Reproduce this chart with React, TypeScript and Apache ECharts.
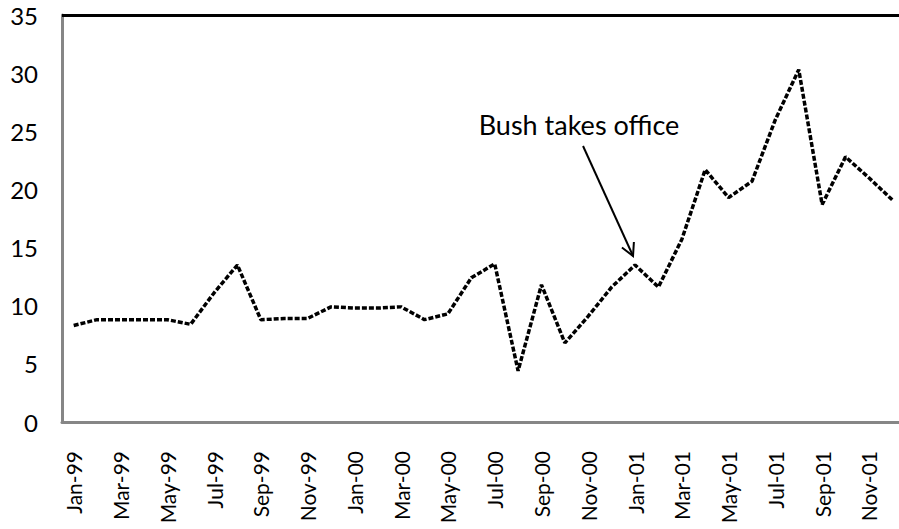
import React, { useEffect, useRef } from "react";
import * as echarts from "echarts";

const months = [
  "Jan-99","Feb-99","Mar-99","Apr-99","May-99","Jun-99","Jul-99","Aug-99","Sep-99","Oct-99","Nov-99","Dec-99",
  "Jan-00","Feb-00","Mar-00","Apr-00","May-00","Jun-00","Jul-00","Aug-00","Sep-00","Oct-00","Nov-00","Dec-00",
  "Jan-01","Feb-01","Mar-01","Apr-01","May-01","Jun-01","Jul-01","Aug-01","Sep-01","Oct-01","Nov-01","Dec-01",
];
const values = [
  8.3, 8.8, 8.8, 8.8, 8.8, 8.4, 11.1, 13.5, 8.8, 8.9, 8.9, 9.9,
  9.8, 9.8, 9.9, 8.8, 9.3, 12.4, 13.6, 4.4, 11.8, 6.8, 9.1, 11.6,
  13.5, 11.6, 15.7, 21.7, 19.3, 20.7, 26.0, 30.3, 18.7, 22.8, 21.0, 19.1,
];
const yTicks = [0, 5, 10, 15, 20, 25, 30, 35];
const annotationText = "Bush takes office";
const annotationMonth = "Jan-01";

const FONT = "Lato, 'Open Sans', sans-serif";

export default function App() {
  const ref = useRef<HTMLDivElement>(null);
  useEffect(() => {
    if (!ref.current) return;
    const chart = echarts.init(ref.current, undefined, { renderer: "svg" });
    const option: any = {
      animation: false,
      backgroundColor: "#ffffff",
      grid: {
        left: 62,
        right: -5,
        top: 15,
        bottom: 107,
        containLabel: false,
        outerBoundsMode: "none",
      },
      xAxis: {
        type: "category",
        data: months,
        boundaryGap: true,
        axisLine: { show: true, lineStyle: { color: "#868686", width: 3 } },
        axisTick: { show: false },
        axisLabel: {
          interval: 1,
          rotate: 90,
          margin: 29,
          fontSize: 21,
          color: "#000",
          fontFamily: FONT,
        },
        splitLine: { show: false },
      },
      yAxis: {
        type: "value",
        min: yTicks[0],
        max: yTicks[yTicks.length - 1],
        interval: 5,
        axisLine: { show: true, lineStyle: { color: "#868686", width: 3 } },
        axisTick: { show: false },
        splitLine: { show: false },
        axisLabel: { fontSize: 24, color: "#000", margin: 24, fontFamily: FONT },
      },
      series: [
        {
          type: "line",
          data: values,
          symbol: "none",
          lineStyle: { color: "#000", width: 3.5, type: [5, 2] },
          markLine: {
            silent: true,
            symbol: "none",
            label: { show: false },
            lineStyle: { color: "#000", width: 3, type: "solid" },
            data: [{ yAxis: yTicks[yTicks.length - 1] }],
          },
        },
      ],
    };
    chart.setOption(option);

    const idx = months.indexOf(annotationMonth);
    const p = chart.convertToPixel({ gridIndex: 0 }, [idx, values[idx]]) as number[];
    const tip = [p[0] - 2, p[1] - 9];
    const tail = [tip[0] - 50, tip[1] - 110];
    const dx = tail[0] - tip[0];
    const dy = tail[1] - tip[1];
    const len = Math.sqrt(dx * dx + dy * dy);
    const ux = dx / len;
    const uy = dy / len;
    const head = 14;
    const ang = (28 * Math.PI) / 180;
    const rot = (x: number, y: number, a: number) => [x * Math.cos(a) - y * Math.sin(a), x * Math.sin(a) + y * Math.cos(a)];
    const r1 = rot(ux, uy, ang);
    const r2 = rot(ux, uy, -ang);
    chart.setOption({
      graphic: [
        {
          type: "line",
          shape: { x1: tail[0], y1: tail[1], x2: tip[0], y2: tip[1] },
          style: { stroke: "#000", lineWidth: 2 },
        },
        {
          type: "polyline",
          shape: {
            points: [
              [tip[0] + r1[0] * head, tip[1] + r1[1] * head],
              tip,
              [tip[0] + r2[0] * head, tip[1] + r2[1] * head],
            ],
          },
          style: { stroke: "#000", lineWidth: 2, fill: "none" },
        },
        {
          type: "text",
          x: tail[0] - 4,
          y: tail[1] - 22,
          style: {
            text: annotationText,
            fontSize: 27,
            fontFamily: FONT,
            fill: "#000",
            align: "center",
            verticalAlign: "middle",
          },
        },
      ],
    });
    return () => chart.dispose();
  }, []);
  return (
    <div
      ref={ref}
      style={{ position: "fixed", left: 0, top: 0, width: 899, height: 529 }}
    />
  );
}
